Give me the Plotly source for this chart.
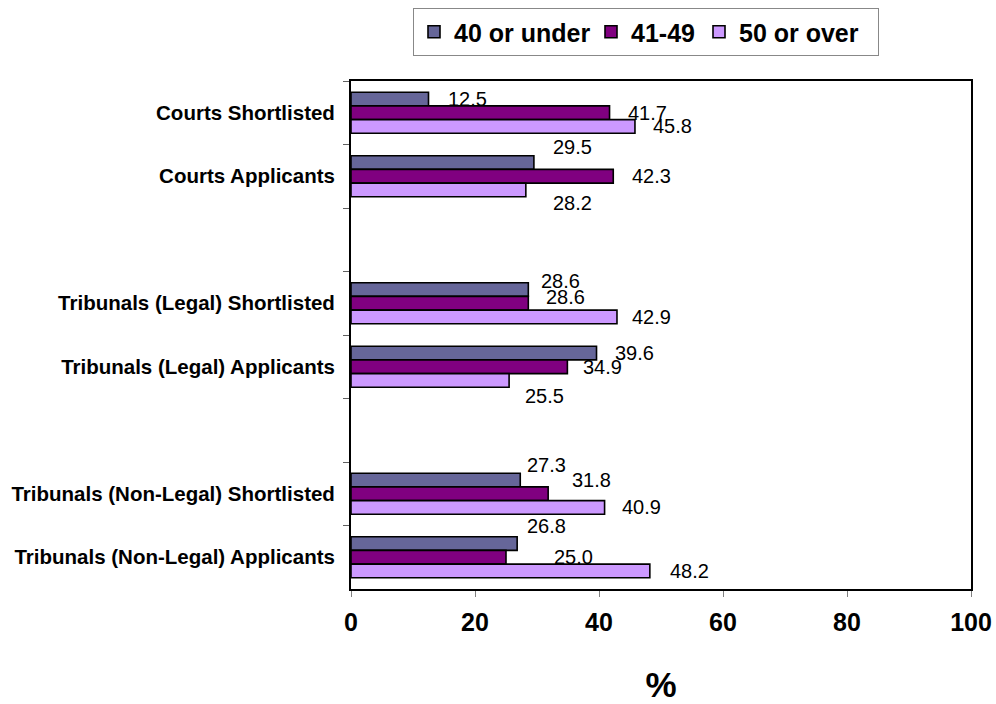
import plotly.graph_objects as go

# ---- data ----
categories = [
    "Courts Shortlisted",
    "Courts Applicants",
    " ",
    "Tribunals (Legal) Shortlisted",
    "Tribunals (Legal) Applicants",
    "  ",
    "Tribunals (Non-Legal) Shortlisted",
    "Tribunals (Non-Legal) Applicants",
]
series_names = ["40 or under", "41-49", "50 or over"]
under_40 = [12.5, 29.5, None, 28.6, 39.6, None, 27.3, 26.8]
age_41_49 = [41.7, 42.3, None, 28.6, 34.9, None, 31.8, 25.0]
over_50 = [45.8, 28.2, None, 42.9, 25.5, None, 40.9, 48.2]
x_ticks = [0, 20, 40, 60, 80, 100]

# ---- style ----
colors = ["#666699", "#800080", "#CC99FF"]
legend_widths = [132, 63, 134]
# label nudges in pixels (dx right, dy down) as placed in the original chart
label_dx = [[17, 17, 0, 11, 16, 0, 5, 8],
            [16, 17, 0, 16, 14, 0, 22, 46],
            [16, 25, 0, 13, 14, 0, 15, 18]]
label_dy = [[0, -16, 0, -9, 0, 0, -15, -18],
            [0, 0, 0, -6, 0, 0, -14, 0],
            [0, 13, 0, 0, 16, 0, 0, 0]]

W, H = 996, 704
ML, MR, MT, MB = 351, 25, 81, 115
BARGAP = 0.354
FONT = "Liberation Sans, Arial, sans-serif"

plot_h = H - MT - MB
cat_px = plot_h / len(categories)
bar_px = cat_px * (1 - BARGAP) / 3

fig = go.Figure()
all_series = [under_40, age_41_49, over_50]
for name, vals, col, lw in zip(series_names, all_series, colors, legend_widths):
    fig.add_trace(go.Bar(
        y=categories, x=vals, name=name, orientation="h",
        marker=dict(color=col, line=dict(color="black", width=1.6)),
        legendwidth=lw, hoverinfo="skip",
    ))

annotations = []
for i, vals in enumerate(all_series):
    for j, v in enumerate(vals):
        if v is None:
            continue
        annotations.append(dict(
            x=v, y=categories[j], xref="x", yref="y",
            text=f"{v:.1f}", showarrow=False,
            xanchor="left", yanchor="middle",
            xshift=label_dx[i][j],
            yshift=-((i - 1) * bar_px + label_dy[i][j]),
            font=dict(family=FONT, size=20, color="black"),
        ))

fig.update_layout(
    width=W, height=H,
    margin=dict(l=ML, r=MR, t=MT, b=MB, autoexpand=False),
    paper_bgcolor="white", plot_bgcolor="white",
    barmode="group", bargap=BARGAP, bargroupgap=0,
    font=dict(family=FONT, color="black"),
    annotations=annotations,
    legend=dict(
        orientation="h", x=(413 - ML) / (W - ML - MR), xanchor="left",
        y=(H - MB - 8) / plot_h, yanchor="top",
        bordercolor="#888888", borderwidth=1, bgcolor="white",
        font=dict(family=FONT, size=25, weight="bold", color="black"),
        traceorder="normal",
    ),
    showlegend=True,
)

fig.update_xaxes(
    range=[0, 100], tickvals=x_ticks, ticktext=[str(t) for t in x_ticks],
    showgrid=False, zeroline=False,
    showline=True, linecolor="black", linewidth=2, mirror=True,
    ticks="outside", ticklen=6, tickcolor="#808080", tickwidth=1,
    tickfont=dict(family=FONT, size=25, weight="bold", color="black"),
    ticklabelstandoff=4,
    title=dict(text="%", font=dict(family=FONT, size=35, weight="bold", color="black"),
               standoff=40),
    automargin=False,
)
fig.update_yaxes(
    type="category", categoryorder="array", categoryarray=categories,
    range=[len(categories) - 0.5, -0.5],
    tickson="boundaries",
    showgrid=False, zeroline=False,
    showline=True, linecolor="black", linewidth=2, mirror=True,
    ticks="outside", ticklen=6, tickcolor="#606060", tickwidth=1,
    tickfont=dict(family=FONT, size=20.5, weight="bold", color="black"),
    ticklabelstandoff=10,
    automargin=False,
)

fig.write_html("out.html")
